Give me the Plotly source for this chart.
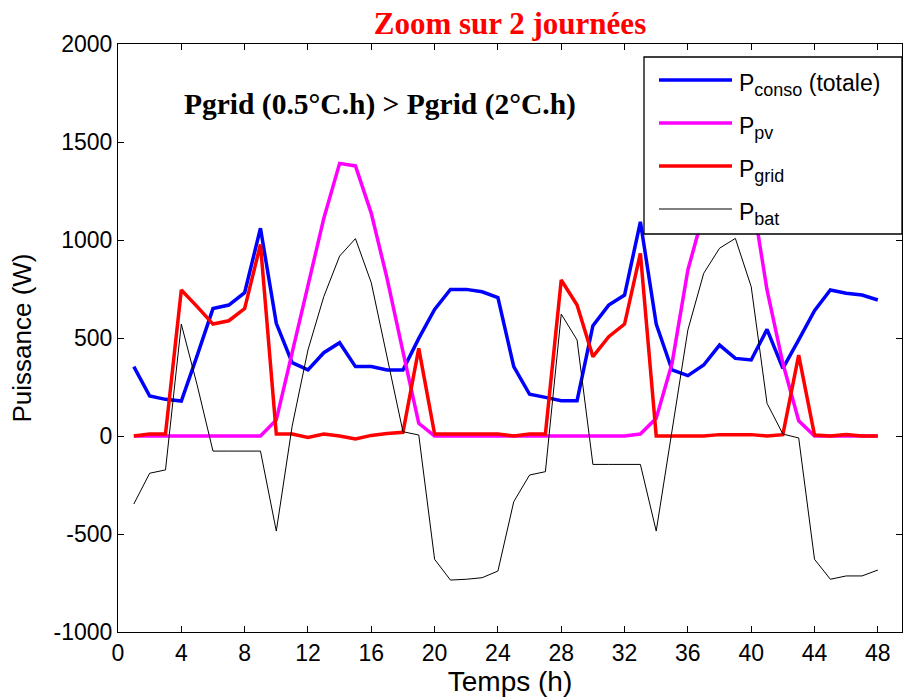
import plotly.graph_objects as go

hours = list(range(1, 49))

p_conso = [354, 204, 187, 178, 410, 650, 668, 731, 1060, 575, 374, 337, 425, 476, 354, 354,
           337, 337, 498, 646, 748, 748, 736, 706, 354, 213, 197, 180, 180, 563, 668, 719,
           1093, 571, 337, 308, 362, 464, 396, 388, 544, 345, 490, 639, 745, 728, 719, 694]

p_pv = [0, 0, 0, 0, 0, 0, 0, 0, 0, 82, 423, 762, 1110, 1391, 1378, 1136,
        803, 430, 65, 0, 0, 0, 0, 0, 0, 0, 0, 0, 0, 0, 0, 0,
        10, 90, 371, 847, 1140, 1390, 1380, 1250, 745, 371, 78, 0, 0, 0, 0, 0]

p_grid = [0, 10, 10, 745, 660, 571, 588, 650, 978, 10, 10, -7, 10, 0, -15, 3,
          13, 19, 447, 10, 10, 10, 10, 10, 0, 10, 10, 796, 668, 405, 507, 571,
          932, 0, 0, 0, 0, 7, 7, 7, 0, 7, 413, 5, 0, 7, 0, 0]

p_bat = [-347, -190, -173, 571, 260, -77, -77, -77, -77, -485, 50, 439, 711, 918, 1007, 782,
         400, 22, 5, -629, -735, -731, -723, -689, -335, -199, -182, 622, 490, -145, -145, -145,
         -145, -485, 40, 541, 830, 958, 1008, 762, 167, 10, -10, -629, -731, -714, -714, -684]

x_ticks = list(range(0, 49, 4))
y_ticks = [-1000, -500, 0, 500, 1000, 1500, 2000]

SUB = '<sub><span style="font-size:18px">{}</span></sub>'
legend_labels = ["P" + SUB.format("conso") + " (totale)", "P" + SUB.format("pv"),
                 "P" + SUB.format("grid"), "P" + SUB.format("bat")]
trace_names = ["P_conso (totale)", "P_pv", "P_grid", "P_bat"]
colors = ["#0000FF", "#FF00FF", "#FF0000", "#000000"]
widths = [3.5, 3.5, 3.5, 1]
series = [p_conso, p_pv, p_grid, p_bat]

W, H = 905, 699
L, R, T, B = 118, 902, 44, 632

fig = go.Figure()
for s, c, w, name in zip(series, colors, widths, trace_names):
    fig.add_trace(go.Scatter(x=hours, y=s, mode="lines", line=dict(color=c, width=w),
                             name=name, showlegend=False))

def px(x):
    return (x - L) / (R - L)

def py(y):
    return (B - y) / (B - T)

shapes = []
annotations = []

# legend box
shapes.append(dict(type="rect", xref="paper", yref="paper", x0=px(644), x1=px(902),
                   y0=py(234), y1=py(57), fillcolor="white", line=dict(color="black", width=1.3),
                   layer="above"))
leg_y = [80, 123, 166, 209]
for yy, c, w, name in zip(leg_y, colors, widths, legend_labels):
    shapes.append(dict(type="line", xref="paper", yref="paper", x0=px(659), x1=px(732),
                       y0=py(yy), y1=py(yy), line=dict(color=c, width=w), layer="above"))
    annotations.append(dict(xref="paper", yref="paper", x=px(737), y=py(yy + 5),
                            xanchor="left", yanchor="middle", showarrow=False, text=name,
                            font=dict(family="Liberation Sans, Arial", size=23, color="black")))

annotations.append(dict(xref="paper", yref="paper", x=px(380), y=py(104), xanchor="center",
                        yanchor="middle", showarrow=False,
                        text="<b>Pgrid (0.5°C.h) &gt; Pgrid (2°C.h)</b>",
                        font=dict(family="Liberation Serif, Times New Roman, serif", size=29.5, color="black")))

fig.update_layout(
    width=W, height=H,
    margin=dict(l=L, r=W - R, t=T, b=H - B, pad=0, autoexpand=False),
    paper_bgcolor="white", plot_bgcolor="white",
    title=dict(text="<b>Zoom sur 2 journées</b>", x=(L + R) / 2 / W, xanchor="center",
               y=1 - 23 / H, yanchor="middle",
               font=dict(family="Liberation Serif, Times New Roman, serif", size=31, color="#FF0000")),
    shapes=shapes, annotations=annotations,
    showlegend=False,
)
fig.update_xaxes(range=[0, (R - L) / 15.83], tickvals=x_ticks, ticktext=[str(v) for v in x_ticks],
                 ticks="inside", ticklen=6, tickcolor="black", showline=True, linecolor="black",
                 linewidth=1, mirror="ticks", showgrid=False, zeroline=False, automargin=False,
                 tickfont=dict(family="Liberation Sans, Arial", size=23, color="black"),
                 title=dict(text="Temps (h)", standoff=6,
                            font=dict(family="Liberation Sans, Arial", size=28, color="black")))
fig.update_yaxes(range=[-1000, 2000], tickvals=y_ticks, ticktext=[str(v) for v in y_ticks],
                 ticks="inside", ticklen=6, tickcolor="black", showline=True, linecolor="black",
                 linewidth=1, mirror="ticks", showgrid=False, zeroline=False, automargin=False,
                 tickfont=dict(family="Liberation Sans, Arial", size=23, color="black"),
                 title=dict(text="Puissance (W)", standoff=14,
                            font=dict(family="Liberation Sans, Arial", size=26, color="black")))

fig.write_html("out.html", config={"displayModeBar": False},
               post_script="document.body.style.margin='0';document.body.style.overflow='hidden';")
